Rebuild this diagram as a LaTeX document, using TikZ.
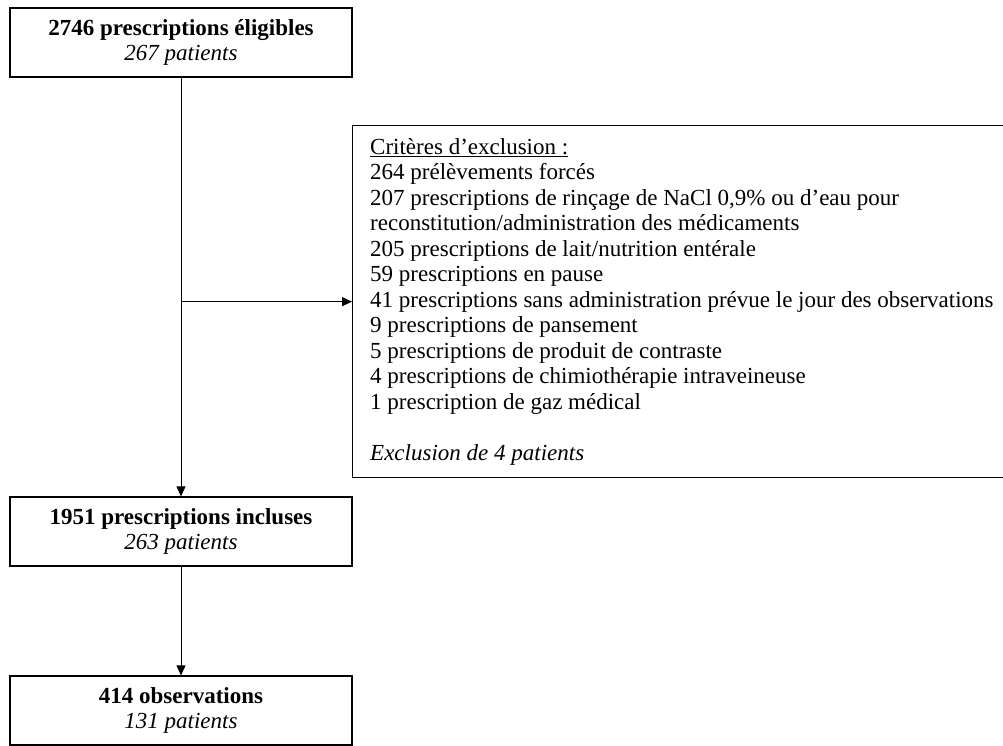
\documentclass[tikz,border=0pt]{standalone}
\usepackage{fontspec}
\setmainfont{Liberation Serif}
\usetikzlibrary{arrows.meta}
\begin{document}
\begin{tikzpicture}[x=1pt,y=-1pt,
  box/.style={draw, line width=1.3pt, minimum width=342pt, minimum height=69pt, align=center, inner sep=0pt, font=\fontsize{23}{25.5}\selectfont},
  exclbox/.style={draw, line width=1.3pt, anchor=north west, minimum width=660pt, minimum height=352pt, inner sep=0pt},
  excltext/.style={anchor=west, align=left, inner sep=0pt, font=\fontsize{23}{25.5}\selectfont},
  conn/.style={line width=0.8pt},
  arr/.style={conn, -{Triangle[length=10pt,width=9pt]}},
]
\useasboundingbox (0,0) rectangle (1003,745);
\node[box] (elig) at (181,42.5) {\textbf{2746 prescriptions éligibles}\\\textit{267 patients}};
\node[exclbox] (excl) at (352,125) {};
\node[excltext] (excltxt) at ([xshift=18pt]excl.west) {\underline{Critères d’exclusion :}\\
264 prélèvements forcés\\
207 prescriptions de rinçage de NaCl 0,9\% ou d’eau pour\\
reconstitution/administration des médicaments\\
205 prescriptions de lait/nutrition entérale\\
59 prescriptions en pause\\
41 prescriptions sans administration prévue le jour des observations\\
9 prescriptions de pansement\\
5 prescriptions de produit de contraste\\
4 prescriptions de chimiothérapie intraveineuse\\
1 prescription de gaz médical\\[25.5pt]
\textit{Exclusion de 4 patients}};
\node[box] (incl) at (181,531.5) {\textbf{1951 prescriptions incluses}\\\textit{263 patients}};
\node[box] (obs) at (181,710.5) {\textbf{414 observations}\\\textit{131 patients}};
\coordinate (split) at (elig.south |- excl.west);
\draw[arr] (elig.south) -- (incl.north);
\draw[arr] (split) -- (excl.west);
\draw[arr] (incl.south) -- (obs.north);
\end{tikzpicture}
\end{document}
